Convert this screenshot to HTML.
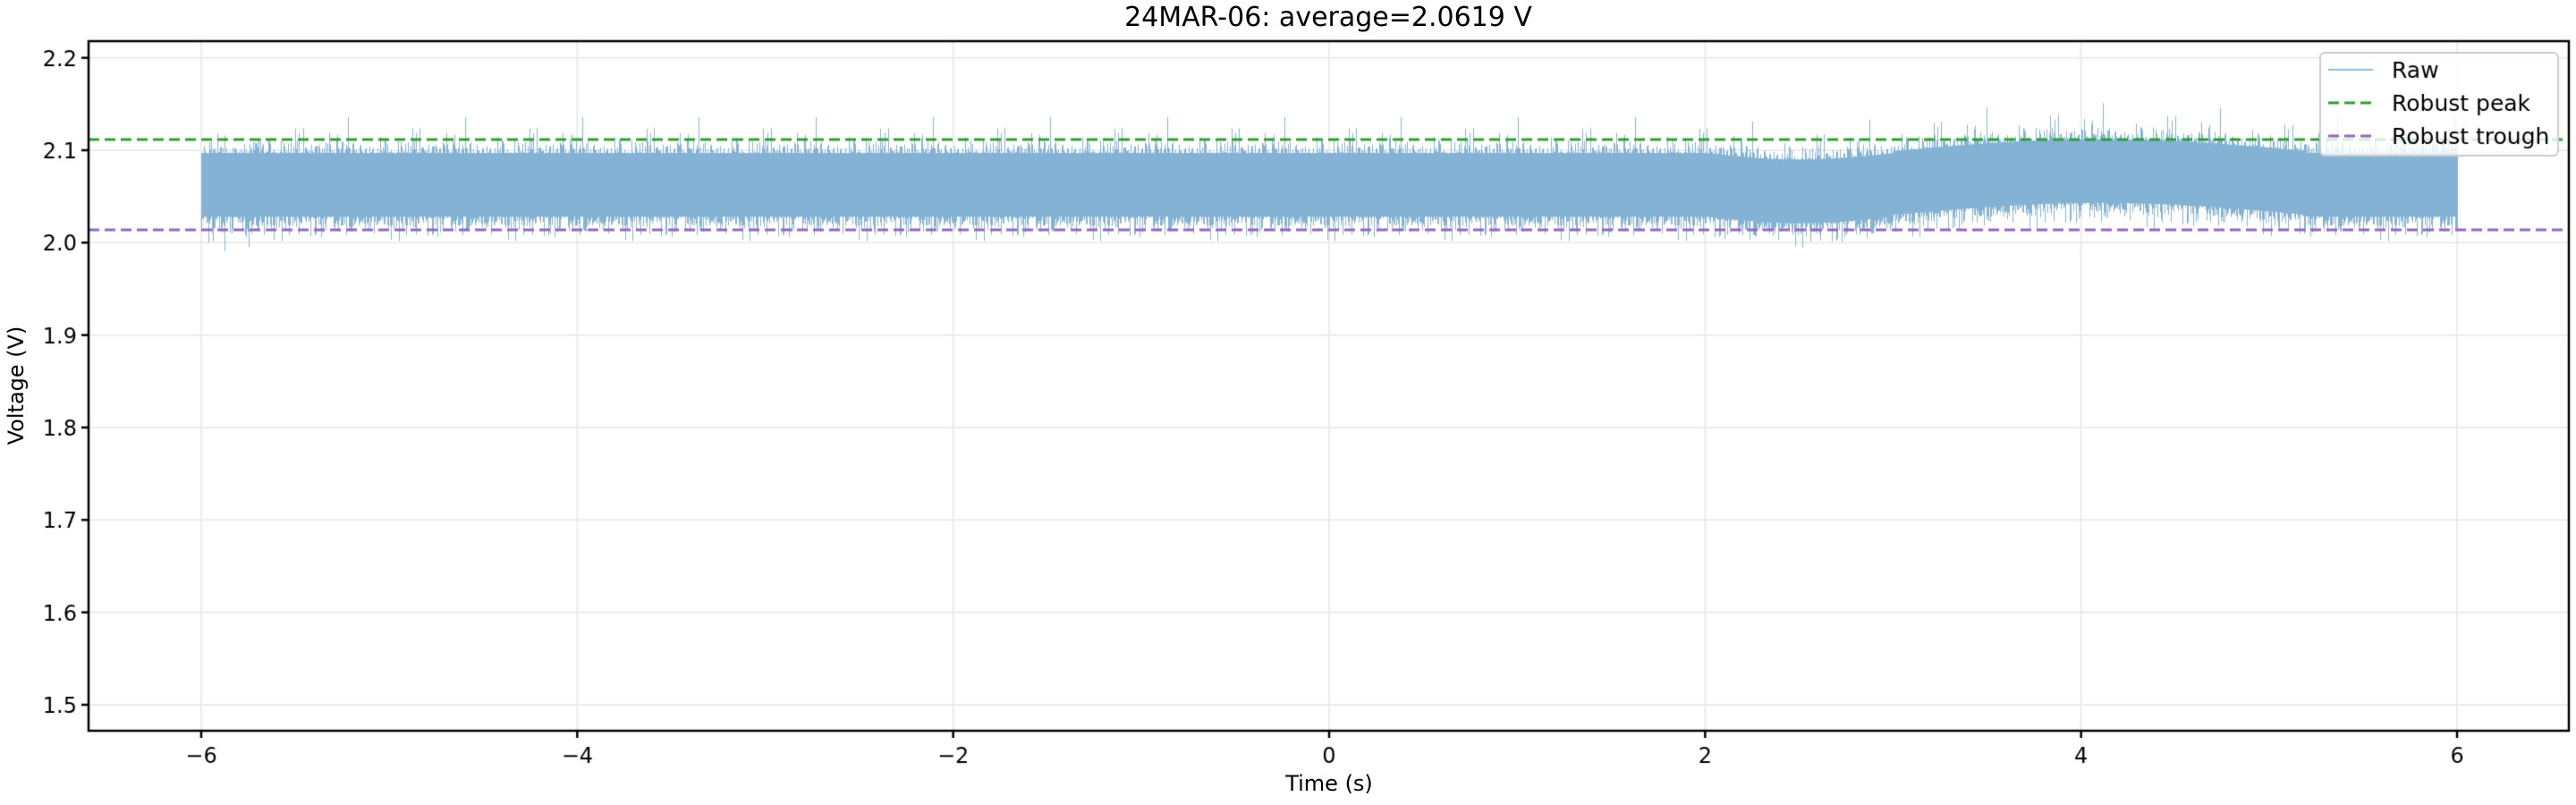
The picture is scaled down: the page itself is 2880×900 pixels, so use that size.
<!DOCTYPE html>
<html><head><meta charset="utf-8"><style>
html,body{margin:0;padding:0;background:#fff;}
body{width:2880px;height:900px;overflow:hidden;position:relative;font-family:"DejaVu Sans","Liberation Sans",sans-serif;}
canvas{position:absolute;left:0;top:0;}
.t{position:absolute;color:#000;white-space:nowrap;}
</style></head><body>
<canvas id="c" width="2880" height="900"></canvas>
<div class="t" style="left:0;width:2970px;top:2px;text-align:center;font-size:30px;">24MAR-06: average=2.0619 V</div>
<div class="t" style="left:0;width:2972px;top:862px;text-align:center;font-size:24px;">Time (s)</div>
<div class="t" style="left:18px;top:431px;font-size:24px;transform:translate(-50%,-50%) rotate(-90deg);">Voltage (V)</div>
<script>
const cv=document.getElementById('c'),g=cv.getContext('2d');
const L=99,R=2872,T=46,B=817;
const X=t=>1486+t*210.17, Y=v=>271.3-(v-2.0)*1033.3;
g.strokeStyle='#ebebeb';g.lineWidth=2;
for(let t=-6;t<=6;t+=2){g.beginPath();g.moveTo(X(t),T);g.lineTo(X(t),B);g.stroke();}
for(let v=1.5;v<=2.21;v+=0.1){g.beginPath();g.moveTo(L,Y(v));g.lineTo(R,Y(v));g.stroke();}
let s=12345;const rnd=()=>{s=(s*1103515245+12345)%2147483648;return s/2147483648;};
const gau=()=>{let u=rnd()||1e-9,v=rnd();return Math.sqrt(-2*Math.log(u))*Math.cos(2*Math.PI*v);};
function cen(t){let c=2.061;
 if(t>2&&t<3)c-=0.007*Math.sin((t-2)*Math.PI);
 if(t>3&&t<5.2)c+=0.013*Math.sin((t-3)/2.2*Math.PI)+0.002;
 return c;}
g.fillStyle='#84b2d5';
for(let x=Math.round(X(-6));x<=Math.round(X(6));x++){
 const t=(x-1486)/210.17,c=cen(t);let mx=-9,mn=9;
 for(let i=0;i<40;i++){const v=gau();if(v>mx)mx=v;if(v<mn)mn=v;}
 const sd=0.0175;
 const top=Math.min(Y(c+mx*sd),Y(c+0.036)),bot=Math.max(Y(c+mn*sd),Y(c-0.033));
 g.fillRect(x,top,1,bot-top);
}
g.setLineDash([12,6]);g.lineWidth=3;
g.strokeStyle='#2ca02c';g.beginPath();g.moveTo(L,156);g.lineTo(R,156);g.stroke();
g.strokeStyle='#9467bd';g.beginPath();g.moveTo(L,257);g.lineTo(R,257);g.stroke();
g.setLineDash([]);
g.strokeStyle='#000';g.lineWidth=2.5;g.strokeRect(L,T,R-L,B-T);
g.font='24px "DejaVu Sans",sans-serif';g.fillStyle='#000';
g.textAlign='center';g.textBaseline='alphabetic';
for(let t=-6;t<=6;t+=2){g.beginPath();g.moveTo(X(t),B);g.lineTo(X(t),B+8);g.stroke();
 g.fillText(t<0?'\u2212'+(-t):String(t),X(t),853);}
g.textAlign='right';
for(let i=0;i<=7;i++){const v=1.5+i*0.1;g.beginPath();g.moveTo(L,Y(v));g.lineTo(L-8,Y(v));g.stroke();
 g.fillText(v.toFixed(1),L-13,Y(v)+9);}
function rr(x,y,w,h,r){g.beginPath();g.moveTo(x+r,y);g.arcTo(x+w,y,x+w,y+h,r);g.arcTo(x+w,y+h,x,y+h,r);g.arcTo(x,y+h,x,y,r);g.arcTo(x,y,x+w,y,r);g.closePath();}
rr(2594,59,266,115,5);g.fillStyle='rgba(255,255,255,0.8)';g.fill();g.strokeStyle='#cccccc';g.lineWidth=2;g.stroke();
g.lineWidth=2;g.strokeStyle='#8fbbd9';g.beginPath();g.moveTo(2603,78);g.lineTo(2653,78);g.stroke();
g.lineWidth=3;g.setLineDash([12,6]);
g.strokeStyle='#2ca02c';g.beginPath();g.moveTo(2603,115);g.lineTo(2653,115);g.stroke();
g.strokeStyle='#9467bd';g.beginPath();g.moveTo(2603,152);g.lineTo(2653,152);g.stroke();
g.setLineDash([]);
g.fillStyle='#000';g.textAlign='left';g.font='25px "DejaVu Sans",sans-serif';
g.fillText('Raw',2674,87);g.fillText('Robust peak',2674,124);g.fillText('Robust trough',2674,161);
</script>
</body></html>
